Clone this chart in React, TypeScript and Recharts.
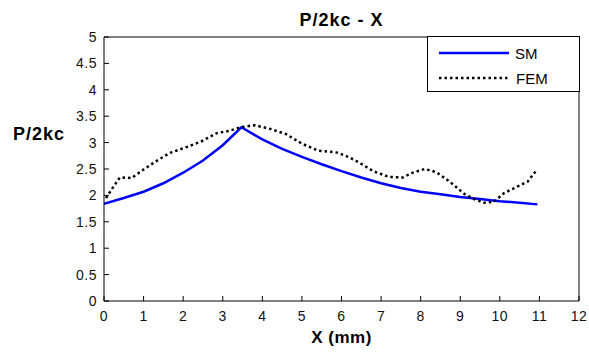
import React from "react";
import { LineChart, Line, XAxis, YAxis, Legend } from "recharts";

const xTicks = [0, 1, 2, 3, 4, 5, 6, 7, 8, 9, 10, 11, 12];
const yTicks = [0, 0.5, 1, 1.5, 2, 2.5, 3, 3.5, 4, 4.5, 5];

const smX = [0, 0.5, 1, 1.5, 2, 2.5, 3, 3.47, 4, 4.5, 5, 5.5, 6, 6.5, 7, 7.5, 8, 8.5, 9, 9.5, 10, 10.5, 10.95];
const smY = [1.84, 1.95, 2.07, 2.23, 2.43, 2.66, 2.95, 3.29, 3.06, 2.88, 2.73, 2.59, 2.46, 2.34, 2.23, 2.14, 2.07, 2.02, 1.97, 1.93, 1.89, 1.86, 1.83];

const femX = [0.05, 0.2, 0.4, 0.7, 1.0, 1.3, 1.65, 2.1, 2.45, 2.85, 3.15, 3.45, 3.8, 4.2, 4.6, 5.0, 5.4, 5.9, 6.2, 6.45, 6.8, 7.2, 7.55, 7.8, 8.1, 8.4, 8.75, 9.1, 9.35, 9.6, 9.85, 10.1, 10.45, 10.7, 10.9];
const femY = [1.95, 2.12, 2.34, 2.33, 2.49, 2.64, 2.8, 2.92, 3.02, 3.18, 3.22, 3.29, 3.33, 3.26, 3.16, 2.98, 2.85, 2.81, 2.72, 2.62, 2.46, 2.35, 2.34, 2.43, 2.5, 2.44, 2.25, 2.03, 1.93, 1.86, 1.88, 2.04, 2.17, 2.26, 2.45];

const smData = smX.map((x, i) => ({ x, y: smY[i] }));
const femData = femX.map((x, i) => ({ x, y: femY[i] }));

const font = "'Liberation Sans', Arial, sans-serif";
const tickFont = { fontFamily: font, fontSize: 14, letterSpacing: 0.5, fill: "#111" };

function BottomTick(props: any) {
  const { x, y, payload } = props;
  return (
    <g>
      <line x1={x} x2={x} y1={y - 15} y2={y - 20} stroke="#000" strokeWidth={1} />
      <text x={x} y={y} textAnchor="middle" dominantBaseline="central" style={tickFont}>
        {payload.value}
      </text>
    </g>
  );
}

function LeftTick(props: any) {
  const { x, y, payload } = props;
  return (
    <g>
      <line x1={x + 7} x2={x + 12} y1={y} y2={y} stroke="#000" strokeWidth={1} />
      <text x={x} y={y} textAnchor="end" dominantBaseline="central" style={tickFont}>
        {payload.value}
      </text>
    </g>
  );
}

function TopTick(props: any) {
  const { x, y } = props;
  return <line x1={x} x2={x} y1={y} y2={y + 5} stroke="#000" strokeWidth={1} />;
}

function RightTick(props: any) {
  const { x, y } = props;
  return <line x1={x} x2={x - 5} y1={y} y2={y} stroke="#000" strokeWidth={1} />;
}

function LegendBox() {
  return (
    <div
      style={{
        position: "absolute",
        left: 427,
        top: 36,
        width: 151,
        height: 54,
        border: "1px solid #000",
        background: "#fff",
      }}
    >
      <svg width={151} height={54} style={{ position: "absolute", left: 0, top: 0 }}>
        <line x1={11} x2={81} y1={16} y2={16} stroke="#0000ff" strokeWidth={2.5} />
        <line x1={11} x2={81} y1={41} y2={41} stroke="#000" strokeWidth={2.5} strokeDasharray="2.5 3" />
        <text x={87} y={16} dominantBaseline="central" style={{ fontFamily: font, fontSize: 15 }}>SM</text>
        <text x={88} y={41} dominantBaseline="central" style={{ fontFamily: font, fontSize: 15 }}>FEM</text>
      </svg>
    </div>
  );
}

export default function App() {
  return (
    <div style={{ position: "absolute", left: 0, top: 0, width: 589, height: 354, background: "#fff" }}>
      <LineChart width={589} height={354} margin={{ top: 27, right: 0, bottom: 33, left: 0 }}>
        <XAxis
          dataKey="x"
          type="number"
          domain={[0, 12]}
          ticks={xTicks}
          interval={0}
          height={20}
          tickSize={0}
          tickMargin={15}
          tick={<BottomTick />}
          axisLine={{ stroke: "#000" }}
          allowDataOverflow
        />
        <XAxis
          xAxisId="top"
          orientation="top"
          dataKey="x"
          type="number"
          domain={[0, 12]}
          ticks={xTicks}
          interval={0}
          height={10}
          tickSize={0}
          tickMargin={0}
          tick={<TopTick />}
          axisLine={{ stroke: "#000" }}
        />
        <YAxis
          type="number"
          domain={[0, 5]}
          ticks={yTicks}
          interval={0}
          width={104}
          tickSize={0}
          tickMargin={7}
          tick={<LeftTick />}
          axisLine={{ stroke: "#000" }}
          allowDataOverflow
        />
        <YAxis
          yAxisId="right"
          orientation="right"
          type="number"
          domain={[0, 5]}
          ticks={yTicks}
          interval={0}
          width={10}
          tickSize={0}
          tickMargin={0}
          tick={<RightTick />}
          axisLine={{ stroke: "#000" }}
        />
        <Legend layout="horizontal" verticalAlign="middle" align="right" content={() => <LegendBox />} wrapperStyle={{ position: "absolute", left: 0, top: 0, width: 0, height: 0 }} />
        <Line
          data={smData}
          dataKey="y"
          name="SM"
          stroke="#0000ff"
          strokeWidth={2.5}
          dot={false}
          type="linear"
          isAnimationActive={false}
        />
        <Line
          data={femData}
          dataKey="y"
          name="FEM"
          stroke="#000"
          strokeWidth={2.5}
          strokeDasharray="2.5 3"
          dot={false}
          type="linear"
          isAnimationActive={false}
        />
      </LineChart>
      <div style={{ position: "absolute", left: 0, width: 683, top: 9, textAlign: "center", fontFamily: font, fontWeight: "bold", fontSize: 18, letterSpacing: 1, lineHeight: "22px" }}>
        P/2kc - X
      </div>
      <div style={{ position: "absolute", left: 13, top: 123, fontFamily: font, fontWeight: "bold", fontSize: 18, letterSpacing: 1, lineHeight: "22px" }}>
        P/2kc
      </div>
      <div style={{ position: "absolute", left: 0, width: 683, top: 327, textAlign: "center", fontFamily: font, fontWeight: "bold", fontSize: 17, letterSpacing: 0.5, lineHeight: "22px" }}>
        X (mm)
      </div>
    </div>
  );
}
